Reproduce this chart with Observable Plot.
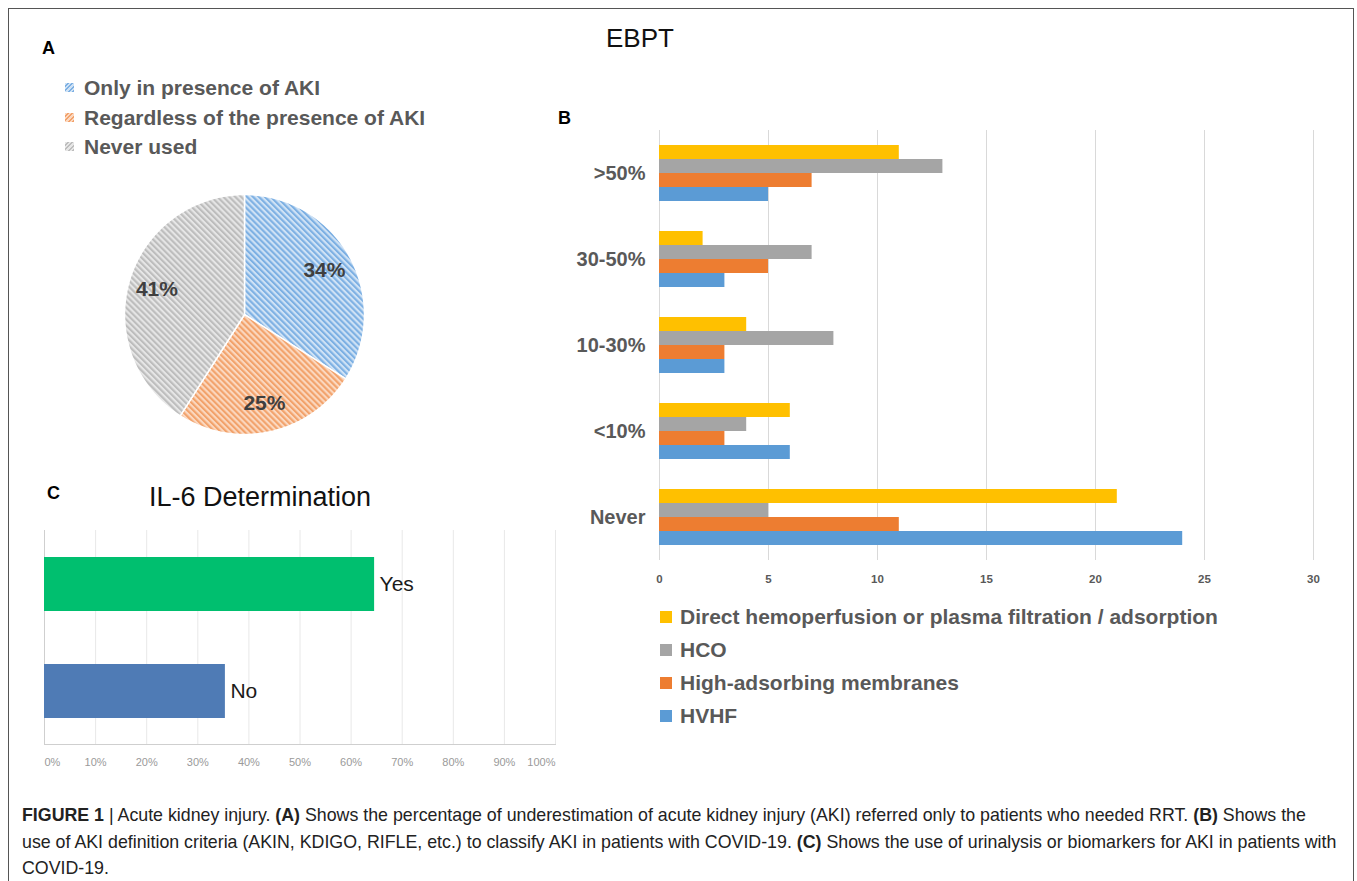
<!DOCTYPE html>
<html><head><meta charset="utf-8">
<script src="https://cdn.jsdelivr.net/npm/d3@7"></script>
<script src="https://cdn.jsdelivr.net/npm/@observablehq/plot@0.6"></script>
<style>
body{margin:0;background:#fff;font-family:"Liberation Sans",Arial,Helvetica,sans-serif;}
#root{position:relative;width:1357px;height:881px;overflow:hidden;background:#fff;}
.abs{position:absolute;white-space:nowrap;}
#frame{position:absolute;left:8px;top:8px;width:1346px;height:920px;border:1.5px solid #555;border-bottom:none;box-sizing:border-box;}
.letter{font-weight:bold;font-size:18px;color:#000;line-height:1;}
.title{font-size:26px;color:#111;line-height:1;}
.title2{font-size:27px;color:#111;line-height:1;}
.legA{font-weight:bold;font-size:21px;color:#595959;line-height:1;}
.legB{font-weight:bold;font-size:21px;color:#595959;line-height:1;}
.sw{position:absolute;}
#caption{position:absolute;left:22px;top:802px;font-family:"Liberation Sans",Arial,sans-serif;font-size:17.8px;line-height:26.7px;color:#222;white-space:nowrap;}
#caption b{font-weight:bold;}
</style></head>
<body><div id="root"><div id="frame"></div></div>
<script>
// ---------- DATA ----------
// Panel A (pie)
const pieLabels = ["Only in presence of AKI", "Regardless of the presence of AKI", "Never used"];
const pieValues = [34, 25, 41];
// Panel B (grouped horizontal bars)
const catsB = [">50%", "30-50%", "10-30%", "<10%", "Never"];
const seriesB = ["Direct hemoperfusion or plasma filtration / adsorption", "HCO", "High-adsorbing membranes", "HVHF"];
const directVals = [11, 2, 4, 6, 21];
const hcoVals = [13, 7, 8, 4, 5];
const highAdsVals = [7, 5, 3, 3, 11];
const hvhfVals = [5, 3, 3, 6, 24];
const ticksB = [0, 5, 10, 15, 20, 25, 30];
// Panel C (IL-6)
const catsC = ["Yes", "No"];
const valuesC = [64.6, 35.4];
const ticksC = [0, 10, 20, 30, 40, 50, 60, 70, 80, 90, 100];

// ---------- STYLE ----------
const pieFg = ["#7DB0E3", "#F2A26B", "#BDBDBD"];
const pieBg = ["#CFE2F5", "#FBD8C0", "#E6E6E6"];
const colorsB = ["#FFC000", "#A5A5A5", "#ED7D31", "#5B9BD5"];
const colorsC = ["#00BF6F", "#4F7BB5"];
const FONT = "'Liberation Sans', Arial, Helvetica, sans-serif";

const root = document.getElementById("root");
function place(el, left, top) {
  el.style.position = "absolute"; el.style.left = left + "px"; el.style.top = top + "px";
  root.appendChild(el); return el;
}
function addText(cls, txt, left, top) {
  const d = document.createElement("div"); d.className = "abs " + cls; d.textContent = txt;
  return place(d, left, top);
}

// ---------- Headings ----------
addText("letter", "A", 42, 39);
addText("letter", "B", 558, 109);
addText("letter", "C", 47, 484);
addText("title", "EBPT", 606, 25);
addText("title2", "IL-6 Determination", 149, 484);

// ---------- Panel A legend ----------
const legAY = [88, 118, 147];
pieLabels.forEach((lab, i) => {
  const sw = document.createElement("div"); sw.className = "sw";
  sw.style.width = "9px"; sw.style.height = "9px";
  sw.style.background = `repeating-linear-gradient(-45deg, ${pieFg[i]} 0 1.6px, ${pieBg[i]} 1.6px 3.2px)`;
  place(sw, 65, legAY[i] - 5);
  addText("legA", lab, 84, legAY[i] - 11);
});

// ---------- Panel A pie ----------
const total = d3.sum(pieValues);
let acc = 0;
const slices = pieValues.map((v, i) => {
  const a0 = acc / total * 2 * Math.PI; acc += v; const a1 = acc / total * 2 * Math.PI;
  return {i, label: pieLabels[i], value: v, a0, a1};
});
const slicePts = slices.map(s => {
  const n = Math.max(2, Math.ceil((s.a1 - s.a0) / (Math.PI / 180)));
  const pts = [{x: 0, y: 0}];
  for (let j = 0; j <= n; j++) { const a = s.a0 + (s.a1 - s.a0) * j / n; pts.push({x: Math.sin(a), y: Math.cos(a)}); }
  pts.push({x: 0, y: 0});
  return pts;
});
const pie = Plot.plot({
  width: 250, height: 250, margin: 5,
  style: {fontFamily: FONT, background: "transparent"},
  x: {domain: [-1, 1], axis: null},
  y: {domain: [-1, 1], axis: null},
  marks: [
    ...slices.map(s => Plot.line(slicePts[s.i], {x: "x", y: "y", fill: `url(#hatch${s.i})`, stroke: "white", strokeWidth: 1.5, strokeLinejoin: "round"})),
    Plot.text(slices, {
      x: s => 0.76 * Math.sin((s.a0 + s.a1) / 2),
      y: s => 0.76 * Math.cos((s.a0 + s.a1) / 2),
      text: s => s.value + "%", fontSize: 21, fontWeight: "bold", fill: "#3f3f3f"
    })
  ]
});
const defs = d3.select(pie).insert("defs", ":first-child");
pieFg.forEach((fg, i) => {
  const p = defs.append("pattern").attr("id", "hatch" + i).attr("patternUnits", "userSpaceOnUse")
    .attr("width", 4.2).attr("height", 4.2).attr("patternTransform", "rotate(-45)");
  p.append("rect").attr("width", 4.2).attr("height", 4.2).attr("fill", pieBg[i]);
  p.append("rect").attr("width", 2.1).attr("height", 4.2).attr("fill", fg);
});
place(pie, 119, 189);

// ---------- Panel B ----------
const valsB = [directVals, hcoVals, highAdsVals, hvhfVals];
const tableB = catsB.flatMap((c, ci) => seriesB.map((s, si) => ({cat: c, series: s, value: valsB[si][ci]})));
const plotB = Plot.plot({
  width: 800, height: 472, marginLeft: 119, marginRight: 27, marginTop: 8, marginBottom: 30,
  style: {fontFamily: FONT, background: "transparent"},
  x: {domain: [0, 30], axis: null},
  fy: {domain: catsB, padding: 0, axis: null},
  y: {domain: seriesB, axis: null, padding: 0, insetTop: 14.5, insetBottom: 14.5},
  color: {domain: seriesB, range: colorsB},
  marks: [
    Plot.gridX(ticksB, {stroke: "#d9d9d9", strokeOpacity: 1, strokeWidth: 1}),
    Plot.barX(tableB, {x: "value", y: "series", fy: "cat", fill: "series"}),
    Plot.axisX(ticksB, {tickSize: 0, tickPadding: 14, fontSize: 11.5, fontWeight: "bold", fill: "#595959", label: null}),
    Plot.axisFy({anchor: "left", tickSize: 0, tickPadding: 14, fontSize: 20, fontWeight: "bold", fill: "#595959", label: null})
  ]
});
place(plotB, 540, 120);

// Panel B legend
const legBY = [617, 650, 683, 716];
seriesB.forEach((s, i) => {
  const sw = document.createElement("div"); sw.className = "sw";
  sw.style.width = "12px"; sw.style.height = "12px"; sw.style.background = colorsB[i];
  place(sw, 660, legBY[i] - 6);
  addText("legB", s, 680, legBY[i] - 11);
});

// ---------- Panel C ----------
const tableC = catsC.map((c, i) => ({cat: c, value: valuesC[i]}));
const midTicks = ticksC.slice(1, -1);
const axC = {tickSize: 0, tickPadding: 14, fontSize: 11, fill: "#9a9a9a", tickFormat: d => d + "%", label: null};
const plotC = Plot.plot({
  width: 560, height: 254, marginLeft: 24, marginRight: 25, marginTop: 10, marginBottom: 30,
  style: {fontFamily: FONT, background: "transparent"},
  x: {domain: [0, 100], axis: null},
  y: {domain: catsC, axis: null, paddingInner: 0.5, paddingOuter: 0.245},
  color: {domain: catsC, range: colorsC},
  marks: [
    Plot.gridX(ticksC, {stroke: "#e8e8e8", strokeOpacity: 1}),
    Plot.ruleX([0], {stroke: "#cfcfcf"}),
    Plot.frame({anchor: "bottom", stroke: "#cfcfcf"}),
    Plot.barX(tableC, {x: "value", y: "cat", fill: "cat"}),
    Plot.text(tableC, {x: "value", y: "cat", text: "cat", textAnchor: "start", dx: 5, fontSize: 21, fill: "#1a1a1a"}),
    Plot.axisX([ticksC[0]], {...axC, textAnchor: "start"}),
    Plot.axisX(midTicks, {...axC}),
    Plot.axisX([ticksC[ticksC.length - 1]], {...axC, textAnchor: "end"})
  ]
});
place(plotC, 20, 520);

// ---------- Caption ----------
const cap = document.createElement("div"); cap.id = "caption";
cap.innerHTML = "<b>FIGURE 1</b> | Acute kidney injury. <b>(A)</b> Shows the percentage of underestimation of acute kidney injury (AKI) referred only to patients who needed RRT. <b>(B)</b> Shows the<br>" +
  "use of AKI definition criteria (AKIN, KDIGO, RIFLE, etc.) to classify AKI in patients with COVID-19. <b>(C)</b> Shows the use of urinalysis or biomarkers for AKI in patients with<br>" +
  "COVID-19.";
root.appendChild(cap);
</script>
</body></html>
